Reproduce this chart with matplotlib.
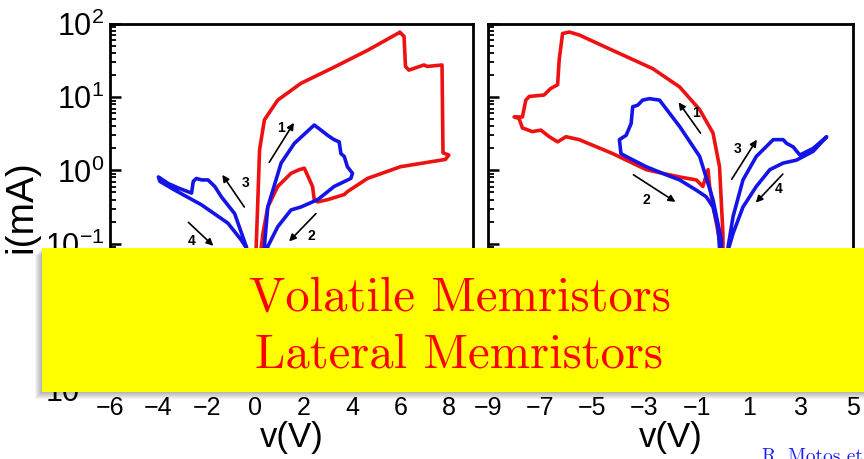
import matplotlib
matplotlib.use("Agg")
import matplotlib.pyplot as plt
import numpy as np
from matplotlib.patches import Rectangle

# Voltage sweeps (V) and log10 of the current (mA) for each branch.
# Lateral device: forward 0 -> +8 V (red) and 0 -> +4 V (blue), then the negative blue sweep.
left_red_v = [0.02, 0.04, 0.11, 0.18, 0.38, 0.93, 1.89, 3.26, 4.64, 5.94, 5.97, 6.15, 6.21,
              6.35, 6.97, 7.11, 7.72, 7.76, 8.0, 7.86, 6.0, 4.64, 3.81, 3.68, 2.99, 2.58,
              2.44, 2.37, 2.03, 1.82, 1.48, 0.93, 0.52, 0.32, 0.22, 0.08]
left_red_logi = [-3.0, -1.05, -0.40, 0.28, 0.69, 0.96, 1.19, 1.41, 1.64, 1.88, 1.89, 1.83, 1.42,
                 1.37, 1.44, 1.42, 1.44, 0.24, 0.21, 0.15, 0.05, -0.11, -0.29, -0.33, -0.40, -0.43,
                 -0.40, -0.22, 0.03, 0.01, -0.04, -0.22, -0.50, -0.86, -1.13, -3.0]

left_blue_pos_v = [0.10, 0.38, 0.52, 1.07, 1.62, 2.44, 2.72, 2.99, 3.26, 3.47, 3.54, 3.68, 3.81,
                   4.02, 3.95, 3.26, 2.58, 1.89, 1.48, 0.93, 0.52, 0.25]
left_blue_pos_logi = [-3.0, -1.04, -0.50, 0.10, 0.37, 0.62, 0.55, 0.48, 0.42, 0.39, 0.23, 0.19, 0.05,
                      -0.04, -0.11, -0.22, -0.40, -0.50, -0.54, -0.77, -1.04, -3.0]

left_blue_neg_v = [-0.10, -0.37, -0.85, -1.40, -1.67, -1.95, -2.22, -2.43, -2.56, -2.63, -3.18,
                   -3.59, -4.0, -3.94, -3.32, -2.22, -1.13, -0.58, -0.30, -0.08]
left_blue_neg_logi = [-3.0, -1.04, -0.59, -0.36, -0.22, -0.13, -0.13, -0.11, -0.15, -0.31, -0.24,
                      -0.18, -0.09, -0.15, -0.27, -0.47, -0.72, -0.95, -1.09, -3.0]

# Second device: negative sweep to -8 V (red), -4 V loop and +4 V loop (blue).
right_red_v = [0.05, 0.01, -0.12, -0.37, -0.88, -1.65, -2.68, -4.22, -5.5, -5.88, -6.14, -6.27,
               -6.33, -6.59, -6.85, -7.42, -7.55, -7.68, -8.0, -7.81, -7.68, -7.30, -6.97, -6.65,
               -6.33, -6.01, -5.5, -4.22, -2.93, -2.30, -1.65, -1.01, -0.76, -0.56, -0.50, -0.31,
               -0.12, 0.02]
right_red_logi = [-3.0, -0.86, 0.05, 0.51, 0.83, 1.14, 1.39, 1.64, 1.85, 1.89, 1.87, 1.51,
                  1.17, 1.12, 1.03, 1.01, 0.96, 0.73, 0.73, 0.71, 0.58, 0.53, 0.55, 0.46,
                  0.39, 0.46, 0.42, 0.23, 0.01, -0.04, -0.09, -0.13, -0.22, 0.01, -0.22, -0.59,
                  -0.95, -3.0]

right_blue_neg_v = [0.0, -0.05, -0.37, -0.88, -1.65, -2.42, -2.81, -3.07, -3.26, -3.45, -3.51,
                    -3.70, -3.96, -3.90, -3.70, -2.93, -2.17, -1.65, -1.01, -0.63, -0.37, -0.18,
                    -0.12, -0.03]
right_blue_neg_logi = [-3.0, -0.95, -0.40, 0.19, 0.60, 0.96, 0.98, 0.96, 0.89, 0.87, 0.64,
                       0.48, 0.42, 0.23, 0.19, 0.05, -0.06, -0.13, -0.27, -0.36, -0.50, -0.77,
                       -1.04, -3.0]

right_blue_pos_v = [0.08, 0.21, 0.40, 0.78, 1.29, 1.94, 2.32, 2.45, 2.71, 2.96, 3.47, 3.99,
                    3.47, 2.83, 2.32, 1.81, 1.29, 0.78, 0.40, 0.21, 0.10]
right_blue_pos_logi = [-3.0, -1.04, -0.63, -0.13, 0.19, 0.42, 0.42, 0.37, 0.32, 0.21, 0.30, 0.46,
                       0.26, 0.14, 0.10, 0.01, -0.22, -0.50, -0.86, -1.09, -3.0]

# sweep-order arrows: (label, tail V, tail log i, head V, head log i, label V, label log i)
left_arrows = [("1", 0.58, 0.11, 1.60, 0.65, 1.07, 0.58),
               ("2", 2.51, -0.59, 1.40, -0.97, 2.30, -0.90),
               ("3", -0.45, -0.50, -1.36, -0.06, -0.41, -0.17),
               ("4", -2.76, -0.71, -1.73, -1.03, -2.63, -0.97)]
right_arrows = [("1", -0.85, 0.51, -1.69, 0.93, -1.04, 0.79),
                ("2", -3.42, -0.06, -1.81, -0.43, -2.92, -0.40),
                ("3", 0.35, -0.12, 1.31, 0.42, 0.58, 0.29),
                ("4", 2.31, -0.05, 1.27, -0.44, 2.15, -0.26)]

RED = "#ee1111"
BLUE = "#1414e8"

plt.rcParams["font.family"] = ["Liberation Sans", "DejaVu Sans"]
W, H = 864, 459
fig = plt.figure(figsize=(W / 100, H / 100), dpi=100)


def px(x0, y0, w, h):
    return [x0 / W, 1 - (y0 + h) / H, w / W, h / H]


ax1 = fig.add_axes(px(110, 24, 363, 366))
ax2 = fig.add_axes(px(488, 24, 365, 366))


def plot_curve(ax, v, logi, color):
    ax.plot(v, 10 ** np.asarray(logi), color=color, lw=2.6, solid_joinstyle="round")


plot_curve(ax1, left_red_v, left_red_logi, RED)
plot_curve(ax1, left_blue_pos_v, left_blue_pos_logi, BLUE)
plot_curve(ax1, left_blue_neg_v, left_blue_neg_logi, BLUE)

plot_curve(ax2, right_red_v, right_red_logi, RED)
plot_curve(ax2, right_blue_neg_v, right_blue_neg_logi, BLUE)
plot_curve(ax2, right_blue_pos_v, right_blue_pos_logi, BLUE)


def draw_arrows(ax, arrows):
    for lab, tv, ti, hv, hi, lv, li in arrows:
        ax.annotate("", xy=(hv, 10 ** hi), xytext=(tv, 10 ** ti),
                    arrowprops=dict(arrowstyle="-|>", color="black", lw=1.2,
                                    mutation_scale=10, shrinkA=0, shrinkB=0))
        ax.text(lv, 10 ** li, lab, fontsize=10, fontweight="bold",
                ha="center", va="center")


draw_arrows(ax1, left_arrows)
draw_arrows(ax2, right_arrows)

for ax, xlim, ticks in [(ax1, (-6, 9), np.arange(-6, 9, 2)),
                        (ax2, (-9, 5), np.arange(-9, 6, 2))]:
    ax.set_yscale("log")
    ax.set_ylim(1e-3, 1e2)
    ax.set_xlim(*xlim)
    ax.set_xticks(ticks)
    ax.set_xticklabels([str(t).replace("-", "\u2212") for t in ticks])
    ax.tick_params(axis="x", direction="in", labelsize=18, pad=4, length=6, width=1.5)
    ax.tick_params(axis="y", which="major", direction="in", labelsize=22, length=8,
                   width=1.8, pad=4)
    ax.tick_params(axis="y", which="minor", direction="in", length=4, width=1.3)
    for s in ax.spines.values():
        s.set_linewidth(2)
    ax.set_xlabel("v(V)", fontsize=25, labelpad=1)

ax2.tick_params(axis="y", which="both", labelleft=False)
ax1.set_ylabel("i(mA)", fontsize=28, va="center")
ax1.yaxis.set_label_coords(-0.245, 0.5)

# yellow banner with a soft drop shadow
bx, by, bw, bh = 42, 248, 840, 144
for k in range(1, 8):
    fig.patches.append(Rectangle(((bx - k) / W, 1 - (by + bh + k) / H), bw / W, bh / H,
                                 transform=fig.transFigure, fc="black", ec="none",
                                 alpha=0.045, zorder=9))
fig.patches.append(Rectangle((bx / W, 1 - (by + bh) / H), bw / W, bh / H,
                             transform=fig.transFigure, fc="#ffff00", ec="none", zorder=10))
fig.text(460 / W, 1 - 311 / H, "Volatile Memristors", family="cmr10", fontsize=35,
         color="#ff0000", ha="center", va="baseline", zorder=11)
fig.text(459 / W, 1 - 368 / H, "Lateral Memristors", family="cmr10", fontsize=35,
         color="#ff0000", ha="center", va="baseline", zorder=11)

fig.text(762 / W, 1 - 448 / H, "R. Motos et al.", family="cmr10", fontsize=14,
         color="#1a1aff", ha="left", va="top")

fig.savefig("out.png", dpi=100)
